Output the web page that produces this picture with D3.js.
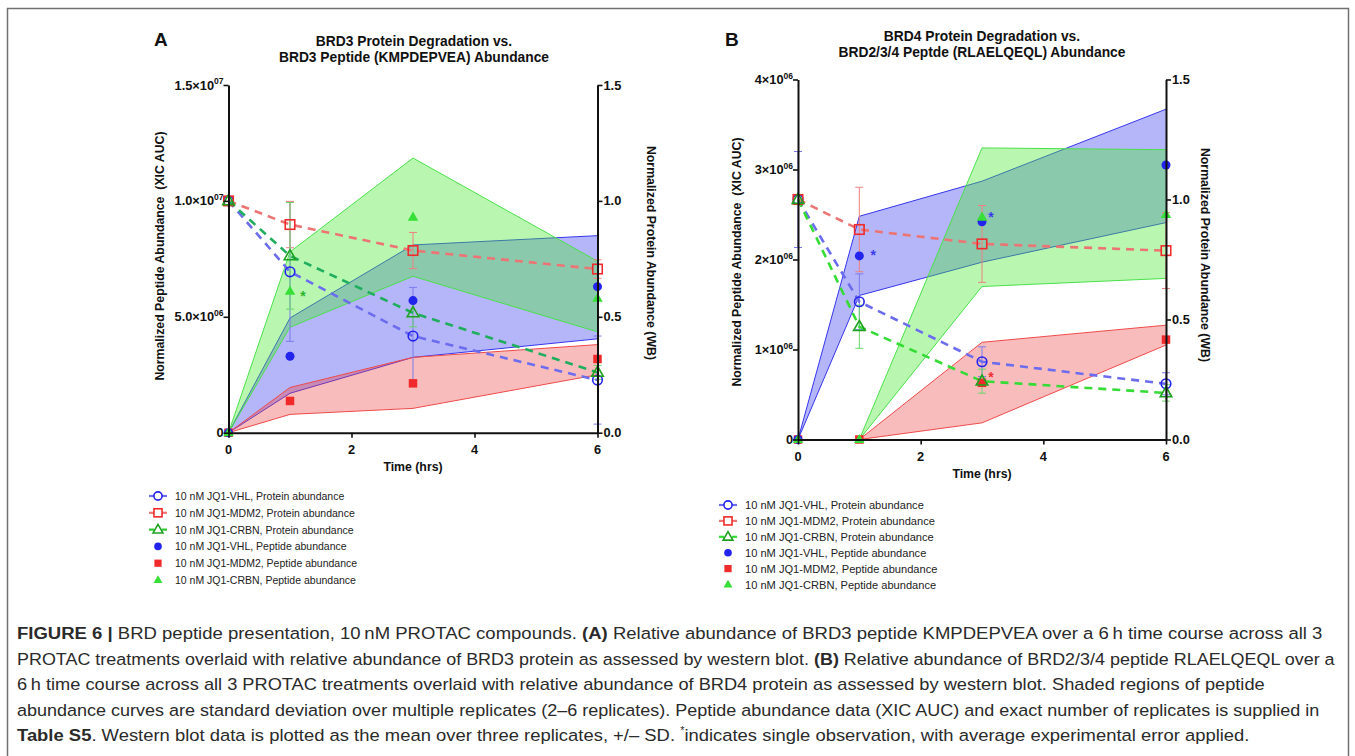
<!DOCTYPE html>
<html>
<head>
<meta charset="utf-8">
<script src="https://cdn.jsdelivr.net/npm/d3@7"></script>
<style>
  body { margin: 0; background: #fff; }
  svg { display: block; }
  text { font-family: "Liberation Sans", Arial, sans-serif; }
</style>
</head>
<body>
<div id="container"></div>
<script>
// time points (hrs)
var times = [0, 1, 3, 6];

// ---- panel A : BRD3 ----
// protein abundance (WB), right axis
var aVhlProt = [1.0, 0.694, 0.417, 0.227];
var aVhlProtSd = [0, 0.30, 0.21, 0.19];
var aMdmProt = [1.0, 0.898, 0.786, 0.706];
var aMdmProtSd = [0, 0.10, 0.078, 0.04];
var aCrbnProt = [1.0, 0.763, 0.517, 0.260];
var aCrbnProtSd = [0, 0.23, 0.06, 0.03];
// peptide abundance (XIC AUC), left axis: mean, band low, band high
var aVhlPep = [0, 3.3e6, 5.7e6, 6.3e6];
var aVhlPepLo = [0, 1.7e6, 3.25e6, 4.05e6];
var aVhlPepHi = [0, 4.95e6, 8.1e6, 8.5e6];
var aMdmPep = [0, 1.37e6, 2.13e6, 3.18e6];
var aMdmPepLo = [0, 0.79e6, 1.05e6, 2.5e6];
var aMdmPepHi = [0, 1.95e6, 3.25e6, 3.8e6];
var aCrbnPep = [0, 6.1e6, 9.3e6, 5.8e6];
var aCrbnPepLo = [0, 4.55e6, 6.75e6, 4.35e6];
var aCrbnPepHi = [0, 7.8e6, 11.85e6, 7.4e6];

// ---- panel B : BRD4 ----
var bVhlProt = [1.0, 0.574, 0.324, 0.232];
var bVhlProtSd = [0.2, 0.116, 0.062, 0.046];
var bMdmProt = [1.0, 0.875, 0.815, 0.787];
var bMdmProtSd = [0, 0.176, 0.16, 0.158];
var bCrbnProt = [1.0, 0.47, 0.243, 0.194];
var bCrbnProtSd = [0, 0.09, 0.05, 0.034];
var bVhlPep = [0, 2.04e6, 2.42e6, 3.05e6];
var bVhlPepLo = [0, 1.6e6, 1.97e6, 2.41e6];
var bVhlPepHi = [0, 2.48e6, 2.87e6, 3.67e6];
var bMdmPep = [0, 0, 0.63e6, 1.11e6];
var bMdmPepLo = [0, 0, 0.185e6, 1.05e6];
var bMdmPepHi = [0, 0, 1.08e6, 1.27e6];
var bCrbnPep = [0, 0, 2.47e6, 2.5e6];
var bCrbnPepLo = [0, 0, 1.70e6, 1.79e6];
var bCrbnPepHi = [0, 0, 3.24e6, 3.22e6];

// tick labels
var xTicks = [0, 2, 4, 6];
var aLeftTicks = [0, 5e6, 1e7, 1.5e7];
var aLeftLabels = [["0", ""], ["5.0\u00d710", "06"], ["1.0\u00d710", "07"], ["1.5\u00d710", "07"]];
var bLeftTicks = [0, 1e6, 2e6, 3e6, 4e6];
var bLeftLabels = [["0", ""], ["1\u00d710", "06"], ["2\u00d710", "06"], ["3\u00d710", "06"], ["4\u00d710", "06"]];
var rightTicks = [0, 0.5, 1.0, 1.5];

var legendLabels = [
    "10 nM JQ1-VHL, Protein abundance",
    "10 nM JQ1-MDM2, Protein abundance",
    "10 nM JQ1-CRBN, Protein abundance",
    "10 nM JQ1-VHL, Peptide abundance",
    "10 nM JQ1-MDM2, Peptide abundance",
    "10 nM JQ1-CRBN, Peptide abundance"
];

var W = 1355, H = 756;
var svg = d3.select("div#container").append("svg")
    .attr("width", W).attr("height", H);

// figure frame
svg.append("rect")
    .attr("x", 7.5).attr("y", 8.5).attr("width", 1341).attr("height", 770)
    .attr("fill", "none").attr("stroke", "#707070").attr("stroke-width", 1.5);

var BLUE = "#2323ee", RED = "#f02a2a", GREEN_F = "#36e036";
var TICK_FONT = 12.8, AX_FONT = 12.3;

function drawPanel(p) {
    var g = svg.append("g");
    var x = d3.scaleLinear().domain([0, 6]).range([p.x0, p.x1]);
    var yL = d3.scaleLinear().domain([0, p.leftMax]).range([p.yb, p.yt]);
    var yR = d3.scaleLinear().domain([0, 1.5]).range([p.yb, p.yt]);

    // shaded SD bands
    var bands = [
        { lo: p.vhlLo, hi: p.vhlHi, fill: "rgba(60,60,240,0.38)", line: "#3535ee" },
        { lo: p.crbnLo, hi: p.crbnHi, fill: "rgba(70,235,50,0.38)", line: "#4ae04a" },
        { lo: p.mdmLo, hi: p.mdmHi, fill: "rgba(238,60,60,0.34)", line: "#ef4a4a" }
    ];
    var area = d3.area()
        .x(function (d) { return x(d.t); })
        .y0(function (d) { return yL(d.lo); })
        .y1(function (d) { return yL(d.hi); });
    bands.forEach(function (b) {
        var pts = times.map(function (t, i) { return { t: t, lo: b.lo[i], hi: b.hi[i] }; });
        g.append("path").datum(pts).attr("d", area).attr("fill", b.fill);
        ["lo", "hi"].forEach(function (k) {
            g.append("path").datum(pts)
                .attr("d", d3.line().x(function (d) { return x(d.t); }).y(function (d) { return yL(d[k]); }))
                .attr("fill", "none").attr("stroke", b.line).attr("stroke-width", 1);
        });
    });

    // protein series: error bars, dashed lines, open markers
    var prot = [
        { v: p.vhlProt, sd: p.vhlSd, line: "#6c6cef", err: "#7a7aee", col: BLUE, shape: "circle" },
        { v: p.mdmProt, sd: p.mdmSd, line: "#ec7474", err: "#ee8080", col: RED, shape: "square" },
        { v: p.crbnProt, sd: p.crbnSd, line: p.greenLine, err: "#6ad66a", col: p.greenOpen, shape: "triangle" }
    ];
    prot.forEach(function (s) {
        times.forEach(function (t, i) {
            if (!s.sd[i]) return;
            var cx = x(t), y1 = yR(s.v[i] + s.sd[i]), y2 = yR(s.v[i] - s.sd[i]);
            g.append("line").attr("x1", cx).attr("x2", cx).attr("y1", y1).attr("y2", y2)
                .attr("stroke", s.err).attr("stroke-width", 1);
            [y1, y2].forEach(function (yy) {
                g.append("line").attr("x1", cx - 4).attr("x2", cx + 4).attr("y1", yy).attr("y2", yy)
                    .attr("stroke", s.err).attr("stroke-width", 1);
            });
        });
    });
    prot.forEach(function (s) {
        g.append("path").datum(times.map(function (t, i) { return [t, s.v[i]]; }))
            .attr("d", d3.line().x(function (d) { return x(d[0]); }).y(function (d) { return yR(d[1]); }))
            .attr("fill", "none").attr("stroke", s.line).attr("stroke-width", 2.6)
            .attr("stroke-dasharray", "8,6");
    });

    // peptide filled markers
    var pep = [
        { v: p.mdmPep, col: RED, shape: "square" },
        { v: p.vhlPep, col: BLUE, shape: "circle" },
        { v: p.crbnPep, col: GREEN_F, shape: "triangle" }
    ];
    pep.forEach(function (s) {
        times.forEach(function (t, i) {
            marker(g, s.shape, x(t), yL(s.v[i]), s.col, true);
        });
    });
    prot.forEach(function (s) {
        times.forEach(function (t, i) {
            marker(g, s.shape, x(t), yR(s.v[i]), s.col, false);
        });
    });

    // single-observation asterisks
    p.stars.forEach(function (st) {
        var src = st.s === "vhl" ? p.vhlPep : st.s === "mdm" ? p.mdmPep : p.crbnPep;
        g.append("text").attr("x", x(times[st.i]) + st.dx).attr("y", yL(src[st.i]) + st.dy)
            .attr("text-anchor", "middle").attr("font-size", 14).attr("font-weight", "bold")
            .attr("fill", st.col).text("*");
    });

    // axes
    var axX = g.append("g").attr("transform", "translate(0," + p.yb + ")")
        .call(d3.axisBottom(x).tickValues(xTicks).tickSize(5).tickSizeOuter(0).tickFormat(""));
    var axL = g.append("g").attr("transform", "translate(" + p.x0 + ",0)")
        .call(d3.axisLeft(yL).tickValues(p.leftTicks).tickSize(5).tickSizeOuter(0).tickFormat(""));
    var axR = g.append("g").attr("transform", "translate(" + p.x1 + ",0)")
        .call(d3.axisRight(yR).tickValues(rightTicks).tickSize(5).tickSizeOuter(0).tickFormat(""));
    [axX, axL, axR].forEach(function (a) {
        a.select(".domain").attr("stroke", "#111").attr("stroke-width", 2);
        a.selectAll(".tick line").attr("stroke", "#111").attr("stroke-width", 1.6);
    });

    xTicks.forEach(function (t) {
        g.append("text").attr("x", x(t)).attr("y", p.yb + 21).attr("text-anchor", "middle")
            .attr("font-size", TICK_FONT).attr("font-weight", "bold").attr("fill", "#111").text(t);
    });
    p.leftTicks.forEach(function (t, i) {
        var tx = g.append("text").attr("x", p.x0 - 5).attr("y", yL(t) + 4.5).attr("text-anchor", "end")
            .attr("font-size", TICK_FONT).attr("font-weight", "bold").attr("fill", "#111");
        tx.append("tspan").text(p.leftLabels[i][0]);
        if (p.leftLabels[i][1]) {
            tx.append("tspan").attr("dy", -5.5).attr("font-size", 8.5).text(p.leftLabels[i][1]);
        }
    });
    rightTicks.forEach(function (t) {
        g.append("text").attr("x", p.x1 + 6).attr("y", yR(t) + 4.5)
            .attr("font-size", TICK_FONT).attr("font-weight", "bold").attr("fill", "#111").text(d3.format(".1f")(t));
    });

    // axis titles
    g.append("text").attr("x", (p.x0 + p.x1) / 2).attr("y", p.yb + 38).attr("text-anchor", "middle")
        .attr("font-size", AX_FONT).attr("font-weight", "bold").attr("fill", "#111").text("Time (hrs)");
    g.append("text").attr("transform", "translate(" + p.lx + "," + p.ly + ") rotate(-90)")
        .attr("text-anchor", "middle").attr("font-size", AX_FONT).attr("font-weight", "bold").attr("fill", "#111")
        .attr("xml:space", "preserve").text("Normalized Peptide Abundance  (XIC AUC)");
    g.append("text").attr("transform", "translate(" + p.rx + "," + p.ry + ") rotate(90)")
        .attr("text-anchor", "middle").attr("font-size", AX_FONT).attr("font-weight", "bold").attr("fill", "#111")
        .text("Normalized Protein Abundance (WB)");

    // titles
    p.title.forEach(function (t, i) {
        g.append("text").attr("x", p.tx).attr("y", p.ty + i * 16).attr("text-anchor", "middle")
            .attr("font-size", 13.8).attr("font-weight", "bold").attr("fill", "#111").text(t);
    });
    g.append("text").attr("x", p.letterX).attr("y", 46).attr("font-size", 19).attr("font-weight", "bold")
        .attr("fill", "#111").text(p.letter);

    // legend
    var legShapes = [
        { shape: "circle", col: BLUE, line: "#6c6cef", open: true },
        { shape: "square", col: RED, line: "#ec7474", open: true },
        { shape: "triangle", col: p.greenOpen, line: p.greenLegLine, open: true },
        { shape: "circle", col: BLUE, open: false },
        { shape: "square", col: RED, open: false },
        { shape: "triangle", col: GREEN_F, open: false }
    ];
    legendLabels.forEach(function (lab, i) {
        var yy = p.legY + i * p.legStep, mx = p.legX;
        var s = legShapes[i];
        if (s.open) {
            g.append("line").attr("x1", mx - 9).attr("x2", mx - 4).attr("y1", yy).attr("y2", yy)
                .attr("stroke", s.line).attr("stroke-width", 2.2);
            g.append("line").attr("x1", mx + 4).attr("x2", mx + 9).attr("y1", yy).attr("y2", yy)
                .attr("stroke", s.line).attr("stroke-width", 2.2);
        }
        marker(g, s.shape, mx, yy, s.col, !s.open, 0.85);
        g.append("text").attr("x", p.legX + 17).attr("y", yy + 4).attr("font-size", p.legFont)
            .attr("fill", "#222").text(lab);
    });
}

function marker(g, shape, cx, cy, col, filled, k) {
    k = k || 1;
    var m;
    if (shape === "circle") {
        m = g.append("circle").attr("cx", cx).attr("cy", cy).attr("r", (filled ? 4.5 : 4.8) * k);
    } else if (shape === "square") {
        var s = (filled ? 8.5 : 9.5) * k;
        m = g.append("rect").attr("x", cx - s / 2).attr("y", cy - s / 2).attr("width", s).attr("height", s);
    } else {
        m = g.append("path").attr("d", d3.symbol(d3.symbolTriangle, (filled ? 48 : 58) * k * k)())
            .attr("transform", "translate(" + cx + "," + (cy + 0.5) + ")");
    }
    if (filled) m.attr("fill", col).attr("stroke", "none");
    else m.attr("fill", "none").attr("stroke", col).attr("stroke-width", 1.6);
}

drawPanel({
    x0: 228.5, x1: 597.5, yb: 432.7, yt: 85, leftMax: 1.5e7,
    leftTicks: aLeftTicks, leftLabels: aLeftLabels,
    vhlProt: aVhlProt, vhlSd: aVhlProtSd, mdmProt: aMdmProt, mdmSd: aMdmProtSd,
    crbnProt: aCrbnProt, crbnSd: aCrbnProtSd,
    vhlPep: aVhlPep, vhlLo: aVhlPepLo, vhlHi: aVhlPepHi,
    mdmPep: aMdmPep, mdmLo: aMdmPepLo, mdmHi: aMdmPepHi,
    crbnPep: aCrbnPep, crbnLo: aCrbnPepLo, crbnHi: aCrbnPepHi,
    greenLine: "#1fae5e", greenOpen: "#1ea21e", greenLegLine: "#2fc82f",
    stars: [{ s: "crbn", i: 1, dx: 13, dy: 10, col: "#2bb52b" }],
    lx: 164, ly: 256, rx: 647, ry: 253,
    title: ["BRD3 Protein Degradation vs.", "BRD3 Peptide (KMPDEPVEA) Abundance"], tx: 414, ty: 46,
    letter: "A", letterX: 154,
    legX: 158, legY: 496, legStep: 16.8, legFont: 10.5
});

drawPanel({
    x0: 798, x1: 1166, yb: 439.5, yt: 79.5, leftMax: 4e6,
    leftTicks: bLeftTicks, leftLabels: bLeftLabels,
    vhlProt: bVhlProt, vhlSd: bVhlProtSd, mdmProt: bMdmProt, mdmSd: bMdmProtSd,
    crbnProt: bCrbnProt, crbnSd: bCrbnProtSd,
    vhlPep: bVhlPep, vhlLo: bVhlPepLo, vhlHi: bVhlPepHi,
    mdmPep: bMdmPep, mdmLo: bMdmPepLo, mdmHi: bMdmPepHi,
    crbnPep: bCrbnPep, crbnLo: bCrbnPepLo, crbnHi: bCrbnPepHi,
    greenLine: "#35dc35", greenOpen: "#1ea21e", greenLegLine: "#35dc35",
    stars: [
        { s: "vhl", i: 1, dx: 14, dy: 4, col: "#3a3aee" },
        { s: "vhl", i: 2, dx: 9, dy: 0, col: "#3a3aee" },
        { s: "mdm", i: 2, dx: 9, dy: -1, col: "#f03030" }
    ],
    lx: 741, ly: 262, rx: 1201, ry: 255,
    title: ["BRD4 Protein Degradation vs.", "BRD2/3/4 Peptde (RLAELQEQL) Abundance"], tx: 982, ty: 41,
    letter: "B", letterX: 725,
    legX: 728, legY: 505, legStep: 15.9, legFont: 11.1
});

// caption
var capLines = [
    [["FIGURE 6 | ", true], ["BRD peptide presentation, 10\u2009nM PROTAC compounds. ", false], ["(A)", true],
     [" Relative abundance of BRD3 peptide KMPDEPVEA over a 6\u2009h time course across all 3", false]],
    [["PROTAC treatments overlaid with relative abundance of BRD3 protein as assessed by western blot. ", false], ["(B)", true],
     [" Relative abundance of BRD2/3/4 peptide RLAELQEQL over a", false]],
    [["6\u2009h time course across all 3 PROTAC treatments overlaid with relative abundance of BRD4 protein as assessed by western blot. Shaded regions of peptide", false]],
    [["abundance curves are standard deviation over multiple replicates (2\u20136 replicates). Peptide abundance data (XIC AUC) and exact number of replicates is supplied in", false]],
    [["Table S5", true], [". Western blot data is plotted as the mean over three replicates, +/\u2013 SD. ", false], ["*", "sup"],
     ["indicates single observation, with average experimental error applied.", false]]
];
var capEnds = [1323, 1335, 1266, 1320, 1250];
var capX = 17;

capLines.forEach(function (segs, i) {
    var yy = 639 + i * 25.5;
    var lg = svg.append("g").attr("transform", "translate(" + capX + "," + yy + ")");
    var tx = lg.append("text").attr("font-size", 17).attr("fill", "#2a2a2a");
    var afterSup = false;
    segs.forEach(function (s) {
        var sp = tx.append("tspan").text(s[0]);
        if (s[1] === true) sp.attr("font-weight", "bold");
        if (s[1] === "sup") { sp.attr("font-size", 10).attr("dy", -7); afterSup = true; }
        else if (afterSup) { sp.attr("dy", 7); afterSup = false; }
    });
    var w = tx.node().getComputedTextLength();
    var k = (capEnds[i] - capX) / w;
    lg.attr("transform", "translate(" + capX + "," + yy + ") scale(" + k + ",1)");
});
</script>
</body>
</html>
